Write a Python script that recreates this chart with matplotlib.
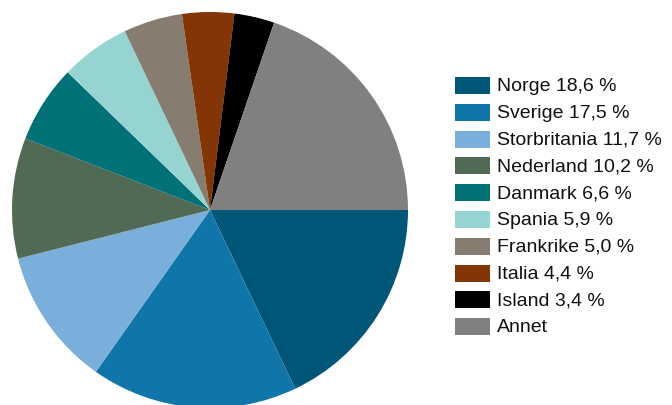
import matplotlib
matplotlib.use("Agg")
import matplotlib.pyplot as plt
from matplotlib.patches import Rectangle

countries = ["Norge", "Sverige", "Storbritania", "Nederland", "Danmark",
             "Spania", "Frankrike", "Italia", "Island", "Annet"]
shares = [18.6, 17.5, 11.7, 10.2, 6.6, 5.9, 5.0, 4.4, 3.4, 20.5]
share_labels = ["18,6 %", "17,5 %", "11,7 %", "10,2 %", "6,6 %",
                "5,9 %", "5,0 %", "4,4 %", "3,4 %", ""]
colors = ["#005677", "#1076aa", "#7aafdc", "#516a53", "#007176",
          "#95d4d1", "#877c70", "#843506", "#000000", "#808080"]

fig = plt.figure(figsize=(6.72, 4.05), dpi=100)
W, H = 672, 405

ax = fig.add_axes([12 / W, -3 / H, 396 / W, 396 / H])
ax.pie(shares, colors=colors, startangle=0, counterclock=False,
       radius=1, wedgeprops=dict(linewidth=0))
ax.set_xlim(-1, 1)
ax.set_ylim(-1, 1)
ax.set_aspect("equal")
ax.axis("off")

# legend drawn by hand in pixel positions
y0 = 85.5
step = 26.8
for i, (name, lab, c) in enumerate(zip(countries, share_labels, colors)):
    yc = y0 + i * step
    fig.patches.append(Rectangle((455 / W, 1 - (yc + 8.5) / H), 35 / W, 17 / H,
                                 transform=fig.transFigure, facecolor=c,
                                 edgecolor="none"))
    txt = name + (" " + lab if lab else "")
    fig.text(497 / W, 1 - (yc + 1) / H, txt, fontsize=14, family="Liberation Sans",
             va="center", ha="left", color="#111111")

fig.savefig("out.png", dpi=100)
